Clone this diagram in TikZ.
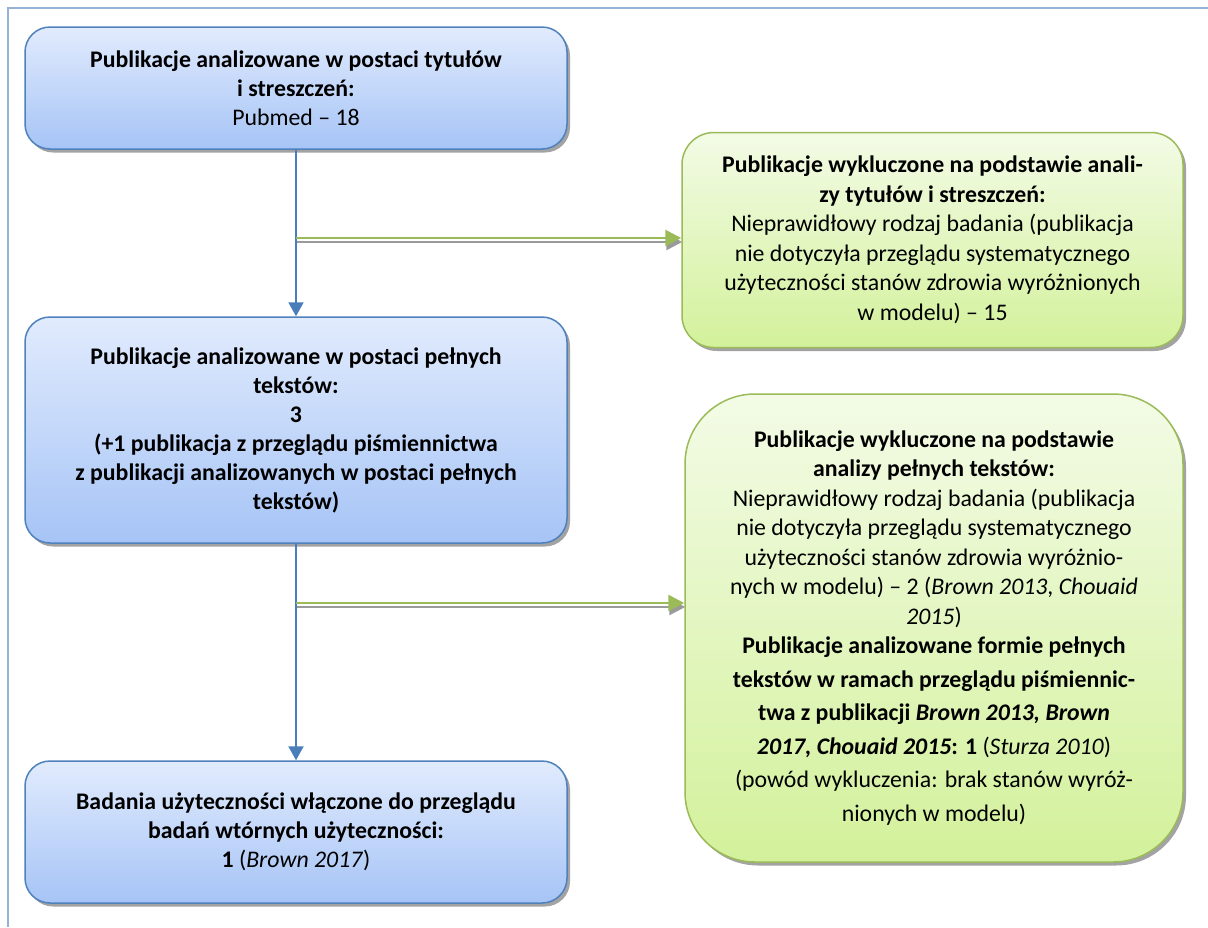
\documentclass[tikz,border=0pt]{standalone}
\usepackage{fontspec}
\setmainfont{Carlito}
\usetikzlibrary{arrows.meta,shadows}
\definecolor{frameblue}{HTML}{95B3D7}
\definecolor{edgeblue}{HTML}{4F81BD}
\definecolor{lineblue}{HTML}{4A7EBB}
\definecolor{filltopblue}{HTML}{E1EBFD}
\definecolor{fillbotblue}{HTML}{A6C4F6}
\definecolor{edgegreen}{HTML}{9BBB59}
\definecolor{filltopgreen}{HTML}{F3FBE6}
\definecolor{fillbotgreen}{HTML}{D3F19B}
\definecolor{shadowgray}{HTML}{9A9A9A}
\tikzset{
  boxtext/.style={align=center, inner sep=0pt, text=black},
  bluebox/.style={boxtext, draw=edgeblue, line width=1.5pt, rounded corners=25pt,
    top color=filltopblue, bottom color=fillbotblue, minimum width=542pt,
    font=\fontsize{23.8}{29}\selectfont,
    drop shadow={shadow xshift=3pt, shadow yshift=-3.5pt, fill=shadowgray, opacity=0.9}},
  greenbox/.style={boxtext, draw=edgegreen, line width=1.5pt,
    top color=filltopgreen, bottom color=fillbotgreen,
    font=\fontsize{23.8}{29.5}\selectfont,
    drop shadow={shadow xshift=3pt, shadow yshift=-3.5pt, fill=shadowgray, opacity=0.9}},
  flowline/.style={draw=lineblue, line width=2pt, -{Triangle[length=14pt,width=15pt]}},
  exline/.style={draw=edgegreen, line width=2.5pt, -{Triangle[length=16pt,width=16pt]}},
  exshadow/.style={draw=shadowgray, line width=2.5pt, -{Triangle[length=16pt,width=16pt]},
    transform canvas={xshift=1pt, yshift=-4pt}},
  framerule/.style={draw=frameblue, line width=2pt}
}
\begin{document}
\begin{tikzpicture}[x=1pt, y=-1pt]
\useasboundingbox (0,0) rectangle (1208,927);
\fill[white] (0,0) rectangle (1208,927);
% page frame
\draw[framerule] (8,927) -- (8,8) -- (1208,8);

% main flow
\node[bluebox, minimum height=122pt] (b1) at (296,88)
  {\textbf{Publikacje analizowane w postaci tytułów}\\
   \textbf{i streszczeń:}\\
   Pubmed – 18};
\node[bluebox, minimum height=226pt] (b2) at (296,430)
  {\textbf{Publikacje analizowane w postaci pełnych}\\
   \textbf{tekstów:}\\
   \textbf{3}\\
   \textbf{(+1 publikacja z przeglądu piśmiennictwa}\\
   \textbf{z publikacji analizowanych w postaci pełnych}\\
   \textbf{tekstów)}};
\node[bluebox, minimum height=142pt] (b3) at (296,832)
  {\textbf{Badania użyteczności włączone do przeglądu}\\
   \textbf{badań wtórnych użyteczności:}\\
   \textbf{1} (\textit{Brown 2017})};

% exclusions
\node[greenbox, rounded corners=32pt, minimum width=501pt, minimum height=215pt] (g1) at (932.5,240)
  {\textbf{Publikacje wykluczone na podstawie anali-}\\
   \textbf{zy tytułów i streszczeń:}\\
   Nieprawidłowy rodzaj badania (publikacja\\
   nie dotyczyła przeglądu systematycznego\\
   użyteczności stanów zdrowia wyróżnionych\\
   w modelu) – 15};
\node[greenbox, rounded corners=70pt, minimum width=498pt, minimum height=468pt] (g2) at (934,628)
  {\textbf{Publikacje wykluczone na podstawie}\\
   \textbf{analizy pełnych tekstów:}\\
   Nieprawidłowy rodzaj badania (publikacja\\
   nie dotyczyła przeglądu systematycznego\\
   użyteczności stanów zdrowia wyróżnio-\\
   nych w modelu) – 2 (\textit{Brown 2013}, \textit{Chouaid}\\
   \textit{2015})\\
   \textbf{Publikacje analizowane formie pełnych}\\[4pt]
   \textbf{tekstów w ramach przeglądu piśmiennic-}\\[4pt]
   \textbf{twa z publikacji \textit{Brown 2013, Brown}}\\[4pt]
   \textbf{\textit{2017, Chouaid 2015}: 1} (\textit{Sturza 2010})\\[4pt]
   (powód wykluczenia: brak stanów wyróż-\\[4pt]
   nionych w modelu)};

% connectors
\coordinate (j1) at (296,238);
\coordinate (j2) at (296,603);
\draw[flowline] (b1.south) -- (b2.north);
\draw[flowline] (b2.south) -- (b3.north);
\draw[exshadow] (j1) -- (j1 -| g1.west);
\draw[exline] (j1) -- (j1 -| g1.west);
\draw[exshadow] (j2) -- (j2 -| g2.west);
\draw[exline] (j2) -- (j2 -| g2.west);
\end{tikzpicture}
\end{document}
